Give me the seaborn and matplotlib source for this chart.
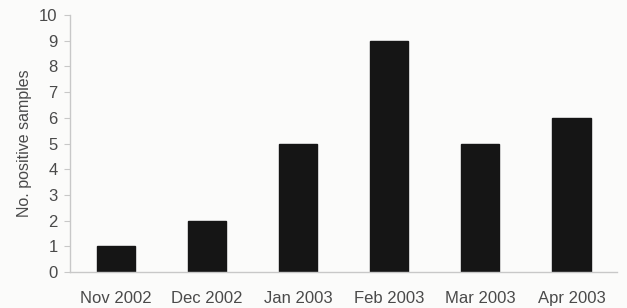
import numpy as np
import pandas as pd
import matplotlib
matplotlib.use("Agg")
import matplotlib.pyplot as plt
import seaborn as sns

months = ["Nov 2002", "Dec 2002", "Jan 2003", "Feb 2003", "Mar 2003", "Apr 2003"]
positives = [1, 2, 5, 9, 5, 6]

df = pd.DataFrame({"month": months, "n": positives})

sns.set_style("white")
plt.rcParams["font.family"] = ["Liberation Sans", "DejaVu Sans"]

fig = plt.figure(figsize=(6.27, 3.08), dpi=100, facecolor="#fbfbfa")
ax = fig.add_axes([0.112, 0.117, 0.872, 0.834], facecolor="#fbfbfa")

sns.barplot(data=df, x="month", y="n", color="#151515", width=0.42,
            saturation=1, ax=ax, edgecolor="#151515")

axis_col = "#c8c8c8"
text_col = "#4a4a4a"

ax.set_xlim(-0.5, len(months) - 0.5)
ax.set_ylim(0, 10)
ax.set_yticks(range(0, 11))
for s in ["top", "right"]:
    ax.spines[s].set_visible(False)
for s in ["left", "bottom"]:
    ax.spines[s].set_color(axis_col)
    ax.spines[s].set_linewidth(1)

ax.set_xticks(np.arange(len(months)))
ax.set_xticklabels(months)
ax.set_xticks(np.arange(len(months) + 1) - 0.5, minor=True)
ax.tick_params(axis="x", which="major", length=0, labelsize=12,
               labelcolor=text_col, pad=14)
ax.tick_params(axis="x", which="minor", length=4, color=axis_col, direction="out")
ax.tick_params(axis="y", length=4, color=axis_col, direction="out",
               labelsize=12, labelcolor=text_col, left=True, pad=5)

ax.set_xlabel("")
ax.set_ylabel("No. positive samples", fontsize=11.5, color=text_col, labelpad=5)

fig.savefig("out.png", dpi=100, facecolor=fig.get_facecolor())
